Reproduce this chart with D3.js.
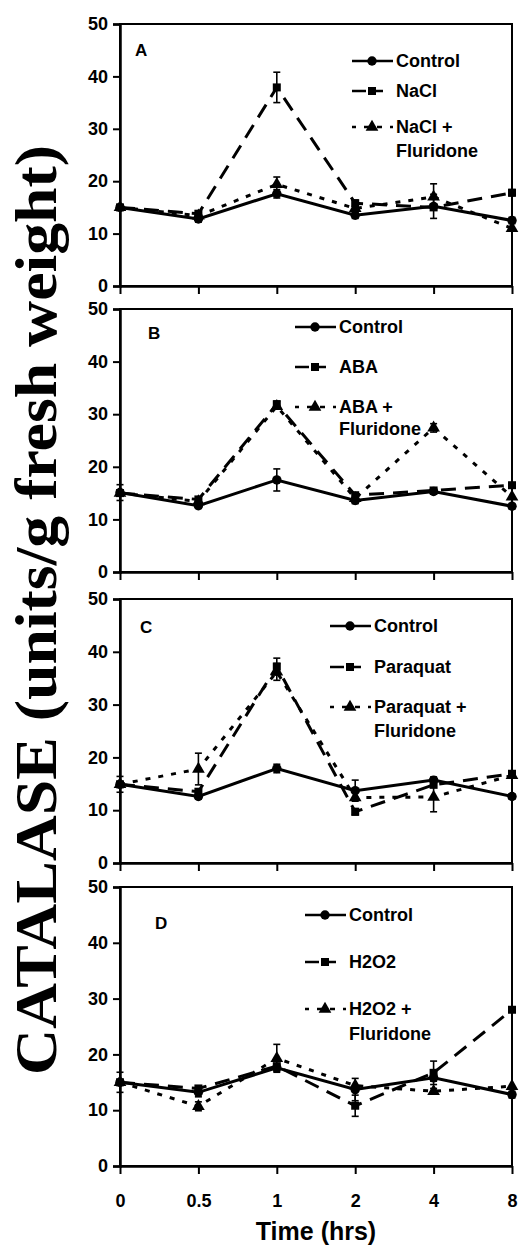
<!DOCTYPE html>
<html>
<head>
<meta charset="utf-8">
<script src="https://cdn.jsdelivr.net/npm/d3@7"></script>
<style>
  body { margin: 0; background: #fff; }
  text { font-family: "Liberation Sans", Arial, sans-serif; font-weight: bold; }
</style>
</head>
<body>
<script>
const times = ["0", "0.5", "1", "2", "4", "8"];
const yTicks = [0, 10, 20, 30, 40, 50];
const panelLetters = ["A", "B", "C", "D"];
const treatments = ["NaCl", "ABA", "Paraquat", "H2O2"];

// panel A
const controlA = [15.0, 12.8, 17.6, 13.5, 15.2, 12.5];
const controlErrA = [0, 0.6, 0.8, 0.6, 2.3, 0.6];
const naclA = [15.0, 13.8, 37.9, 15.8, 15.0, 17.8];
const naclErrA = [0, 0.5, 2.9, 0.6, 0, 0.6];
const naclFluA = [15.0, 13.4, 19.4, 14.8, 17.0, 11.0];
const naclFluErrA = [0, 0, 1.4, 0, 2.5, 0];

// panel B
const controlB = [15.1, 12.6, 17.5, 13.6, 15.3, 12.5];
const controlErrB = [1.5, 0.5, 2.1, 0.6, 0.5, 0.5];
const abaB = [15.0, 13.8, 31.9, 14.6, 15.5, 16.5];
const abaErrB = [0, 0, 0.6, 0, 0, 0];
const abaFluB = [15.0, 13.4, 31.5, 14.0, 27.4, 14.3];
const abaFluErrB = [0, 0, 0, 0, 0.8, 0];

// panel C
const controlC = [14.9, 12.6, 17.9, 13.7, 15.7, 12.6];
const controlErrC = [1.5, 0.5, 0.8, 2.0, 0.6, 0.5];
const paraquatC = [14.9, 13.5, 37.2, 9.7, 14.8, 16.9];
const paraquatErrC = [0, 0, 1.6, 0.6, 0, 0];
const paraquatFluC = [14.9, 17.8, 36.2, 12.4, 12.5, 16.6];
const paraquatFluErrC = [0, 3.0, 1.6, 0, 2.8, 0];

// panel D
const controlD = [15.0, 13.2, 17.6, 13.7, 15.8, 12.8];
const controlErrD = [1.8, 0.8, 0.6, 2.0, 0.6, 0.6];
const h2o2D = [15.0, 13.9, 17.9, 10.8, 16.7, 28.0];
const h2o2ErrD = [0, 0, 0, 1.9, 2.1, 0];
const h2o2FluD = [15.0, 10.7, 19.3, 14.4, 13.4, 14.3];
const h2o2FluErrD = [0, 0.8, 2.5, 0, 0.5, 0];

const seriesByPanel = [
  [[controlA, controlErrA], [naclA, naclErrA], [naclFluA, naclFluErrA]],
  [[controlB, controlErrB], [abaB, abaErrB], [abaFluB, abaFluErrB]],
  [[controlC, controlErrC], [paraquatC, paraquatErrC], [paraquatFluC, paraquatFluErrC]],
  [[controlD, controlErrD], [h2o2D, h2o2ErrD], [h2o2FluD, h2o2FluErrD]]
];

// layout of each panel (pixels)
const layout = [
  { top: 24, bottom: 286, letter: [135, 56], legX: 352, rows: [67, 97, 133, 157] },
  { top: 309, bottom: 572, letter: [148, 339], legX: 295, rows: [333, 373, 413, 435] },
  { top: 599, bottom: 863, letter: [140, 633], legX: 330, rows: [632, 673, 713, 737] },
  { top: 887, bottom: 1166, letter: [155, 929], legX: 305, rows: [921, 968, 1015, 1040] }
];

const styles = [
  { dash: null, marker: "circle" },
  { dash: "15,9", marker: "square" },
  { dash: "5,8", marker: "triangle" }
];

const width = 531, height = 1246;
const left = 120, right = 512;

const svg = d3.select("body").append("svg")
  .attr("width", width)
  .attr("height", height);

const x = d3.scalePoint().domain(times).range([left, right]);

const symbols = {
  circle: d3.symbol().type(d3.symbolCircle).size(70),
  square: d3.symbol().type(d3.symbolSquare).size(64),
  triangle: d3.symbol().type(d3.symbolTriangle).size(70)
};

function drawMarker(g, type, cx, cy) {
  g.append("path")
    .attr("d", symbols[type]())
    .attr("transform", `translate(${cx},${cy})`)
    .attr("fill", "#000");
}

seriesByPanel.forEach((series, p) => {
  const L = layout[p];
  const y = d3.scaleLinear().domain([0, 50]).range([L.bottom, L.top]);
  const g = svg.append("g");

  // frame
  g.append("rect")
    .attr("x", left).attr("y", L.top)
    .attr("width", right - left).attr("height", L.bottom - L.top)
    .attr("fill", "none").attr("stroke", "#000").attr("stroke-width", 2);

  // y axis
  const ya = g.append("g")
    .attr("transform", `translate(${left},0)`)
    .call(d3.axisLeft(y).tickValues(yTicks).tickSize(7).tickPadding(5).tickFormat(d3.format("d")));
  ya.select(".domain").attr("stroke-width", 2.5);
  ya.selectAll(".tick line").attr("stroke-width", 2);
  ya.selectAll(".tick text").attr("font-size", 18).attr("font-family", "Liberation Sans, Arial, sans-serif")
    .attr("font-weight", "bold").attr("fill", "#000");

  // x axis
  const xa = g.append("g")
    .attr("transform", `translate(0,${L.bottom})`)
    .call(d3.axisBottom(x).tickSize(8).tickSizeOuter(0).tickPadding(20));
  xa.select(".domain").attr("stroke-width", 2.5);
  xa.selectAll(".tick line").attr("stroke-width", 2);
  xa.selectAll(".tick text").attr("font-size", 18).attr("font-family", "Liberation Sans, Arial, sans-serif")
    .attr("font-weight", "bold").attr("fill", "#000")
    .style("display", p === 3 ? null : "none");

  // lines
  series.forEach(([vals, errs], s) => {
    const line = d3.line().x((d, i) => x(times[i])).y(d => y(d));
    g.append("path")
      .datum(vals)
      .attr("d", line)
      .attr("fill", "none")
      .attr("stroke", "#000")
      .attr("stroke-width", 3)
      .attr("stroke-dasharray", styles[s].dash);
  });

  // error bars + markers
  series.forEach(([vals, errs], s) => {
    vals.forEach((v, i) => {
      const e = errs[i];
      const cx = x(times[i]);
      if (e > 0) {
        g.append("line")
          .attr("x1", cx).attr("x2", cx)
          .attr("y1", y(v - e)).attr("y2", y(v + e))
          .attr("stroke", "#000").attr("stroke-width", 1.6);
        [v - e, v + e].forEach(t => {
          g.append("line")
            .attr("x1", cx - 3.5).attr("x2", cx + 3.5)
            .attr("y1", y(t)).attr("y2", y(t))
            .attr("stroke", "#000").attr("stroke-width", 1.6);
        });
      }
      drawMarker(g, styles[s].marker, cx, y(v));
    });
  });

  // panel letter
  g.append("text")
    .attr("x", L.letter[0]).attr("y", L.letter[1])
    .attr("font-size", 17)
    .text(panelLetters[p]);

  // legend
  const names = ["Control", treatments[p], treatments[p] + " +"];
  names.forEach((name, s) => {
    const ly = L.rows[s] - 6;
    g.append("line")
      .attr("x1", L.legX).attr("x2", L.legX + 41)
      .attr("y1", ly).attr("y2", ly)
      .attr("stroke", "#000").attr("stroke-width", 2.5)
      .attr("stroke-dasharray", s === 0 ? null : (s === 1 ? "14,9,8,20" : "5,8"))
      .attr("stroke-dashoffset", s === 2 ? 1 : 0);
    drawMarker(g, styles[s].marker, L.legX + 20, ly);
    g.append("text")
      .attr("x", L.legX + 44).attr("y", L.rows[s])
      .attr("font-size", 18)
      .text(name);
  });
  g.append("text")
    .attr("x", L.legX + 44).attr("y", L.rows[3])
    .attr("font-size", 18)
    .text("Fluridone");
});

// shared axis titles
svg.append("text")
  .attr("transform", "translate(56,1075) rotate(-90)")
  .attr("font-size", 60)
  .attr("textLength", 930)
  .attr("lengthAdjust", "spacingAndGlyphs")
  .style("font-family", "'Liberation Serif', 'Times New Roman', serif")
  .text("CATALASE (units/g fresh weight)");

svg.append("text")
  .attr("x", 316).attr("y", 1240)
  .attr("text-anchor", "middle")
  .attr("font-size", 25)
  .text("Time (hrs)");
</script>
</body>
</html>
